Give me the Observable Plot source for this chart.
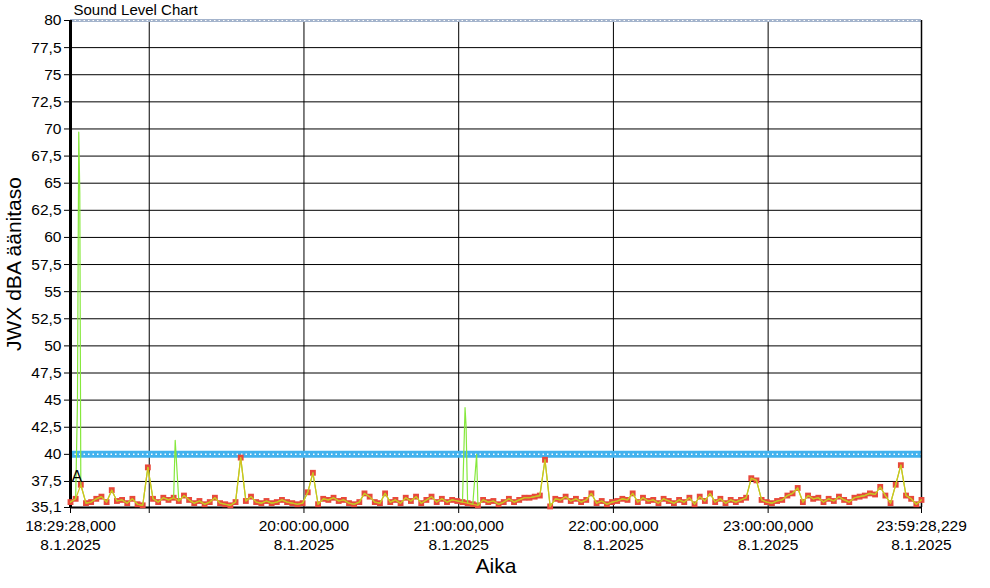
<!DOCTYPE html>
<html>
<head>
<meta charset="utf-8">
<script src="https://cdn.jsdelivr.net/npm/d3@7"></script>
<script src="https://cdn.jsdelivr.net/npm/@observablehq/plot@0.6"></script>
<style>
  html, body { margin: 0; padding: 0; background: white; }
</style>
</head>
<body>
<div id="chart"></div>
<script>
// ---- data ----
const chartTitle = "Sound Level Chart";
const yLabel = "JWX dBA äänitaso";
const xLabel = "Aika";
const startTime = new Date(2025, 0, 8, 18, 29, 28, 0);
const endTime = new Date(2025, 0, 8, 23, 59, 28, 229);
const stepMinutes = 2;

// 2-minute sound level samples (dBA)
const levels = [
  35.6, 35.9, 37.2, 35.5, 35.6, 35.9, 36.1, 35.6, 36.7, 35.7,
  35.8, 35.5, 35.9, 35.4, 35.3, 38.8, 35.9, 35.6, 36.0, 35.8,
  36.0, 35.7, 36.2, 35.8, 35.5, 35.7, 35.4, 35.6, 36.0, 35.5,
  35.4, 35.3, 35.6, 39.7, 35.7, 36.1, 35.6, 35.5, 35.7, 35.5,
  35.6, 35.8, 35.6, 35.5, 35.4, 35.5, 36.5, 38.3, 35.4, 35.9,
  35.8, 36.0, 35.7, 35.8, 35.5, 35.4, 35.6, 36.4, 36.1, 35.6,
  35.5, 36.4, 35.6, 35.8, 35.5, 36.0, 35.7, 36.1, 35.5, 35.8,
  36.1, 35.6, 35.9, 35.6, 35.8, 35.7, 35.6, 35.5, 35.4, 35.3,
  35.8, 35.6, 35.7, 35.4, 35.6, 35.9, 35.6, 35.8, 36.0, 36.0,
  36.1, 36.2, 39.5, 35.2, 35.9, 35.8, 36.1, 35.7, 35.9, 35.6,
  35.8, 36.4, 35.5, 35.7, 35.4, 35.6, 35.7, 35.9, 35.8, 36.4,
  35.6, 36.0, 35.7, 35.8, 35.5, 35.9, 35.7, 35.5, 35.8, 35.6,
  36.0, 35.4, 36.1, 35.7, 36.4, 35.6, 35.9, 35.5, 35.8, 35.6,
  35.8, 36.0, 37.8, 37.6, 35.8, 35.6, 35.5, 35.7, 35.8, 36.2,
  36.4, 36.9, 35.6, 36.2, 35.9, 36.0, 35.6, 35.9, 35.7, 36.1,
  35.8, 35.6, 36.0, 36.1, 36.2, 36.4, 36.3, 37.0, 36.2, 35.5,
  37.2, 39.0, 36.2, 35.9, 35.4, 35.8
];

// short peaks seen only in the green (fast) trace: minutes after start, dBA
const peakMinutes = [2.7, 3.2, 3.6, 40.6, 153.0, 153.4, 157.5];
const peakValues  = [44.8, 69.7, 64.1, 41.3, 44.3, 42.6, 40.0];

const limitLevel = 40;
const markerLevel = 37.9;
const markerText = "A";

const yMin = 35.1, yMax = 80;
const yTicks = [35.1, 37.5, 40, 42.5, 45, 47.5, 50, 52.5, 55, 57.5, 60, 62.5, 65, 67.5, 70, 72.5, 75, 77.5, 80];
const yGrid = [37.5, 40, 42.5, 45, 47.5, 50, 52.5, 55, 57.5, 60, 62.5, 65, 67.5, 70, 72.5, 75, 77.5];

const xTickTimes = [
  startTime,
  new Date(2025, 0, 8, 19, 0, 0),
  new Date(2025, 0, 8, 20, 0, 0),
  new Date(2025, 0, 8, 21, 0, 0),
  new Date(2025, 0, 8, 22, 0, 0),
  new Date(2025, 0, 8, 23, 0, 0),
  endTime
];
const xTickTimeLabels = ["18:29:28,000", "", "20:00:00,000", "21:00:00,000", "22:00:00,000", "23:00:00,000", "23:59:28,229"];
const xTickDateLabels = ["8.1.2025", "", "8.1.2025", "8.1.2025", "8.1.2025", "8.1.2025", "8.1.2025"];
const xGrid = xTickTimes.slice(1, 6);

// ---- tables ----
const samples = levels.map((v, i) => ({t: new Date(+startTime + i * stepMinutes * 60000), v}));
const peaks = peakMinutes.map((m, i) => ({t: new Date(+startTime + m * 60000), v: peakValues[i]}));
const fast = samples.concat(peaks).sort((a, b) => a.t - b.t);
const xTicks = xTickTimes.map((t, i) => ({t, time: xTickTimeLabels[i], date: xTickDateLabels[i]}));

const fmt = d => String(d).replace(".", ",");
const font = "'Liberation Sans', Arial, sans-serif";

const chart = Plot.plot({
  width: 990,
  height: 588,
  marginLeft: 70,
  marginRight: 69,
  marginTop: 20,
  marginBottom: 81,
  style: {fontFamily: font, fontSize: "15px", color: "black", background: "white", overflow: "visible"},
  x: {type: "time", domain: [startTime, endTime]},
  y: {domain: [yMin, yMax]},
  marks: [
    Plot.gridY(yGrid, {stroke: "black", strokeOpacity: 1, strokeWidth: 1}),
    Plot.gridX(xGrid, {stroke: "black", strokeOpacity: 1, strokeWidth: 1}),
    // limit line at 40 dBA
    Plot.ruleY([limitLevel], {stroke: "#43b2ee", strokeWidth: 7}),
    Plot.ruleY([limitLevel], {stroke: "white", strokeWidth: 1.5, strokeDasharray: "1.5 3"}),
    // top border (dotted)
    Plot.ruleY([yMax], {stroke: "#a4b4cc", strokeWidth: 3}),
    Plot.ruleY([yMax], {stroke: "white", strokeWidth: 1, strokeDasharray: "1.5 3"}),
    // frame
    Plot.ruleY([yMin], {stroke: "black", strokeWidth: 2}),
    Plot.ruleX([endTime], {stroke: "black", strokeWidth: 1.5}),
    Plot.ruleX([startTime], {stroke: "black", strokeWidth: 3}),
    // axes
    Plot.axisY(yTicks, {tickSize: 6, tickPadding: 3, tickFormat: fmt, fontSize: 15.5, label: null, stroke: "black"}),
    Plot.axisX(xTickTimes, {tickSize: 6, tickFormat: () => "", label: null, stroke: "black"}),
    Plot.text(xTicks, {x: "t", text: "time", frameAnchor: "bottom", dy: 19, lineAnchor: "middle", fontSize: 15.5, fill: "black"}),
    Plot.text(xTicks, {x: "t", text: "date", frameAnchor: "bottom", dy: 38, lineAnchor: "middle", fontSize: 15.5, fill: "black"}),
    // series
    Plot.dot(samples, {x: "t", y: "v", symbol: "square", r: 3.3, fill: "#e8493b", stroke: null}),
    Plot.line(fast, {x: "t", y: "v", stroke: "#86e83c", strokeWidth: 1.2}),
    Plot.line(samples, {x: "t", y: "v", stroke: "#d6bf1c", strokeWidth: 1.2}),
    // labels
    Plot.text([markerText], {x: startTime, y: markerLevel, textAnchor: "start", dx: 1, fontSize: 16, fill: "black"}),
    Plot.text([chartTitle], {frameAnchor: "top-left", dx: 3, dy: -10, textAnchor: "start", lineAnchor: "middle", fontSize: 15, fill: "black"}),
    Plot.text([yLabel], {frameAnchor: "left", dx: -56, rotate: -90, textAnchor: "middle", lineAnchor: "middle", fontSize: 21, fill: "black"}),
    Plot.text([xLabel], {frameAnchor: "bottom", dy: 59, textAnchor: "middle", lineAnchor: "middle", fontSize: 21, fill: "black"})
  ]
});
document.getElementById("chart").appendChild(chart);
</script>
</body>
</html>
